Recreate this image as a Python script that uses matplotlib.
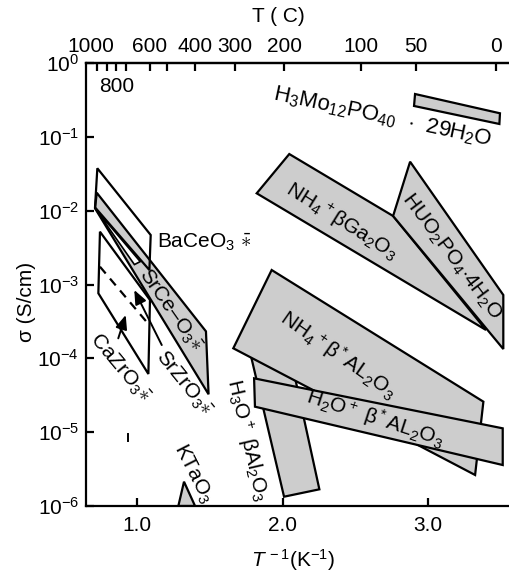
import numpy as np
import matplotlib
matplotlib.use("Agg")
import matplotlib.pyplot as plt
from matplotlib.patches import Polygon, FancyArrowPatch
import matplotlib.transforms as mtransforms

plt.rcParams['font.family'] = ['Liberation Sans', 'DejaVu Sans']
plt.rcParams['mathtext.fontset'] = 'custom'
plt.rcParams['mathtext.rm'] = 'Liberation Sans'
plt.rcParams['mathtext.it'] = 'Liberation Sans:italic'
plt.rcParams['mathtext.bf'] = 'Liberation Sans:bold'

# ---------------- data: (1000/T, log10 sigma) ----------------
h3mo12 = [(2.910, -0.420), (3.494, -0.681), (3.490, -0.826), (2.903, -0.582)]
nh4_ga = [(2.045, -1.233), (2.759, -2.072), (3.398, -3.616), (1.821, -1.765)]
huo2po4 = [(2.876, -1.337), (3.517, -3.142), (3.517, -3.874), (2.759, -2.072)]
h3o_al = [(1.775, -3.914), (2.085, -4.267), (2.252, -5.774), (2.009, -5.874)]
nh4_al = [(1.924, -2.804), (3.380, -4.587), (3.323, -5.580), (1.660, -3.864)]
h2o_al = [(1.803, -4.271), (3.513, -4.948), (3.513, -5.445), (1.809, -4.655)]
ktao3 = [(1.321, -5.671), (1.397, -6.0), (1.282, -6.0)]
srceo3 = [(0.721, -1.757), (1.472, -3.635), (1.490, -4.487), (0.709, -1.968)]
srzr_sliver = [(0.709, -1.968), (1.020, -2.690), (0.980, -2.730)]
baceo3 = [(0.725, -1.426), (1.092, -2.330), (1.083, -2.804), (0.709, -1.955)]
cazro3 = [(0.743, -2.285), (1.087, -3.210), (1.076, -4.212), (0.732, -3.119)]
cazro3_dash = [(0.743, -2.759), (1.076, -3.535)]
arrow_ca = [(0.869, -3.729), (0.920, -3.413)]
arrow_sr = [(1.168, -3.820), (0.979, -3.075)]
small_bar = [(0.934, -5.03), (0.934, -5.12)]

gray_shapes = [h3mo12, nh4_ga, huo2po4, h3o_al, nh4_al, h2o_al, ktao3, srceo3]

# labels: (text, x, log10 sigma, rotation, ha, size)
labels = [
    (r"H$_3$Mo$_{12}$PO$_{40}$  $\cdot$  29H$_2$O", 2.683, -0.731, -12, 'center', 16),
    (r"NH$_4$$^+$βGa$_2$O$_3$", 2.406, -2.150, -32, 'center', 15),
    (r"HUO$_2$PO$_4$$\cdot$4H$_2$O", 3.162, -2.624, -53, 'center', 15),
    (r"NH$_4$$^+$β$^*$AL$_2$O$_3$", 2.382, -3.955, -35, 'center', 15),
    (r"H$_2$O$^+$ β$^*$AL$_2$O$_3$", 2.635, -4.812, -18, 'center', 15),
    (r"H$_3$O$^+$ βAl$_2$O$_3$", 1.752, -5.106, -77, 'center', 15),
    (r"KTaO$_3$", 1.381, -5.557, -63, 'center', 15),
    (r"BaCeO$_3$ $\bar{\ast}$", 1.135, -2.424, 0, 'left', 15),
    (r"SrCe–O$_3\bar{\ast}$", 1.225, -3.346, -55, 'center', 15),
    (r"CaZrO$_3\bar{\ast}$", 0.881, -4.131, -50, 'center', 15),
    (r"SrZrO$_3\bar{\ast}$", 1.316, -4.338, -51, 'center', 15),
]

top_ticks = [0.725, 0.790, 0.854, 0.922, 1.087, 1.206, 1.397, 1.672, 2.009, 2.536, 2.917, 3.467]
top_labels = ["1000", "", "", "", "600", "", "400", "300", "200", "100", "50", "0"]
bottom_ticks = [1.0, 2.0, 3.0]
bottom_labels = ["1.0", "2.0", "3.0"]
y_exps = [0, -1, -2, -3, -4, -5, -6]

# ---------------- figure ----------------
W, H = 510, 576
fig = plt.figure(figsize=(W / 100, H / 100), dpi=100)
ax = fig.add_axes([86 / W, 1 - 506 / H, (W - 86) / W, (506 - 63) / H])
ax.set_yscale('log')
ax.set_xlim(0.647, 3.563)
ax.set_ylim(1e-6, 1.0)

lw = 1.6
def pts(shape):
    return [(x, 10 ** l) for x, l in shape]

for shp in gray_shapes:
    ax.add_patch(Polygon(pts(shp), closed=True, facecolor='#cdcdcd', edgecolor='black', lw=lw, zorder=2))
for shp in [baceo3, cazro3]:
    ax.add_patch(Polygon(pts(shp), closed=True, facecolor='none', edgecolor='black', lw=lw, zorder=3))
ax.add_patch(Polygon(pts(srzr_sliver), closed=True, facecolor='white', edgecolor='black', lw=1.2, zorder=3))

dx, dy = zip(*pts(cazro3_dash))
ax.plot(dx, dy, color='black', lw=lw, ls=(0, (4, 3)), zorder=3)
bx, by = zip(*pts(small_bar))
ax.plot(bx, by, color='black', lw=1.4, zorder=3)
for arr in [arrow_ca, arrow_sr]:
    (x0, y0), (x1, y1) = pts(arr)
    ax.add_patch(FancyArrowPatch((x0, y0), (x1, y1), arrowstyle='-|>,head_length=0.6,head_width=0.25',
                                 mutation_scale=14, color='black', lw=1.4, zorder=4,
                                 shrinkA=0, shrinkB=0))

for txt, x, l, rot, ha, fs in labels:
    ax.text(x, 10 ** l, txt, rotation=rot, ha=ha, va='center', fontsize=fs,
            rotation_mode='anchor', zorder=5)

ax.text(0.860, 10 ** -0.325, "800", ha='center', va='center', fontsize=15)

# spines / ticks
ax.spines['right'].set_visible(False)
for s in ['left', 'top', 'bottom']:
    ax.spines[s].set_linewidth(1.6)

ax.set_xticks(bottom_ticks)
ax.set_xticklabels(bottom_labels)
ax.set_yticks([10.0 ** e for e in y_exps])
ax.set_yticklabels([r"10$^{%d}$" % e for e in y_exps])
ax.yaxis.set_minor_locator(matplotlib.ticker.NullLocator())
ax.tick_params(axis='both', which='major', direction='in', length=6, width=1.6,
               labelsize=15, right=False, top=False)
ax.tick_params(axis='x', pad=7)
ax.tick_params(axis='y', pad=5)

sec = ax.secondary_xaxis('top')
sec.set_xticks(top_ticks)
sec.set_xticklabels(top_labels)
sec.tick_params(direction='in', length=6, width=1.6, labelsize=15, pad=5)
sec.spines['top'].set_linewidth(1.6)
for lab in sec.get_xticklabels():
    if lab.get_text() == "1000":
        lab.set_transform(lab.get_transform() + mtransforms.ScaledTranslation(-7 / 100, 0, fig.dpi_scale_trans))

fig.text(278 / W, 1 - 17 / H, "T ( C)", ha='center', va='center', fontsize=15)
fig.text(27 / W, 1 - 302 / H, "σ (S/cm)", ha='center', va='center', fontsize=15, rotation=90)
fig.text(293 / W, 1 - 560 / H, r"$\mathit{T}^{\,-1}$(K$^{-1}$)", ha='center', va='center', fontsize=15)

fig.savefig("out.png", dpi=100)
